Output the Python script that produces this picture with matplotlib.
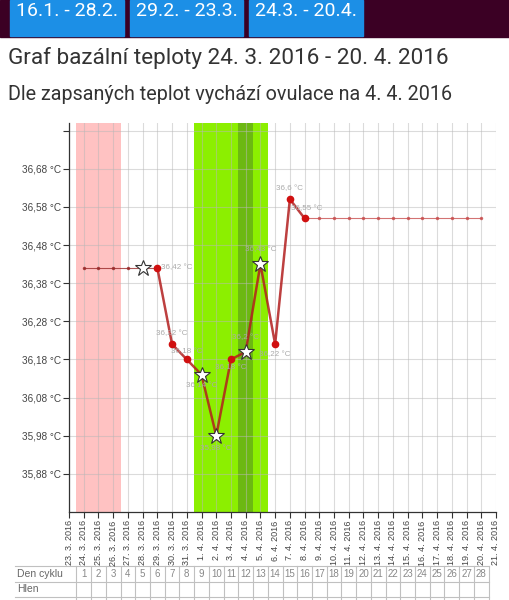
import matplotlib
matplotlib.use("Agg")
import matplotlib.pyplot as plt
from matplotlib.patches import Rectangle
from matplotlib.transforms import blended_transform_factory

W, H = 509, 600

dates = ["23. 3. 2016", "24. 3. 2016", "25. 3. 2016", "26. 3. 2016", "27. 3. 2016",
         "28. 3. 2016", "29. 3. 2016", "30. 3. 2016", "31. 3. 2016", "1. 4. 2016",
         "2. 4. 2016", "3. 4. 2016", "4. 4. 2016", "5. 4. 2016", "6. 4. 2016",
         "7. 4. 2016", "8. 4. 2016", "9. 4. 2016", "10. 4. 2016", "11. 4. 2016",
         "12. 4. 2016", "13. 4. 2016", "14. 4. 2016", "15. 4. 2016", "16. 4. 2016",
         "17. 4. 2016", "18. 4. 2016", "19. 4. 2016", "20. 4. 2016", "21. 4. 2016"]

temp_dates = ["29. 3. 2016", "30. 3. 2016", "31. 3. 2016", "1. 4. 2016", "2. 4. 2016",
              "3. 4. 2016", "4. 4. 2016", "5. 4. 2016", "6. 4. 2016", "7. 4. 2016",
              "8. 4. 2016"]
temps = [36.42, 36.22, 36.18, 36.14, 35.98, 36.18, 36.2, 36.43, 36.22, 36.6, 36.55]

star_dates = ["28. 3. 2016", "1. 4. 2016", "2. 4. 2016", "4. 4. 2016", "5. 4. 2016"]
star_temps = [36.42, 36.14, 35.98, 36.2, 36.43]

pre_dates = ["24. 3. 2016", "25. 3. 2016", "26. 3. 2016", "27. 3. 2016", "28. 3. 2016",
             "29. 3. 2016"]
pre_temp = 36.42
post_dates = ["8. 4. 2016", "9. 4. 2016", "10. 4. 2016", "11. 4. 2016", "12. 4. 2016",
              "13. 4. 2016", "14. 4. 2016", "15. 4. 2016", "16. 4. 2016", "17. 4. 2016",
              "18. 4. 2016", "19. 4. 2016", "20. 4. 2016"]
post_temp = 36.55

period_dates = ["24. 3. 2016", "25. 3. 2016", "26. 3. 2016"]
fertile_dates = ["1. 4. 2016", "2. 4. 2016", "3. 4. 2016", "4. 4. 2016", "5. 4. 2016"]
ovulation_date = "4. 4. 2016"

# label offsets in pixels (dx, dy up)
label_offsets = [(19, 0), (0, 11), (0, 8), (0, -11), (0, -13), (0, -8),
                 (0, 14), (0, 15), (0, -10), (0, 11), (2, 10)]

y_ticks = [35.88, 35.98, 36.08, 36.18, 36.28, 36.38, 36.48, 36.58, 36.68, 36.78]
y_labels = ["35,88 °C", "35,98 °C", "36,08 °C", "36,18 °C", "36,28 °C",
            "36,38 °C", "36,48 °C", "36,58 °C", "36,68 °C", ""]

cycle_days = ["1", "2", "3", "4", "5", "6", "7", "8", "9", "10", "11", "12", "13", "14",
              "15", "16", "17", "18", "19", "20", "21", "22", "23", "24", "25", "26",
              "27", "28"]
table_rows = ["Den cyklu", "Hlen"]

buttons = ["16.1. - 28.2.", "29.2. - 23.3.", "24.3. - 20.4."]
title = "Graf bazální teploty 24. 3. 2016 - 20. 4. 2016"
subtitle = "Dle zapsaných teplot vychází ovulace na 4. 4. 2016"

plt.rcParams["font.family"] = ["Liberation Sans", "DejaVu Sans"]

fig = plt.figure(figsize=(W / 100, H / 100), dpi=100)
bg = fig.add_axes([0, 0, 1, 1])
bg.set_xlim(0, W)
bg.set_ylim(H, 0)
bg.axis("off")

# header
bg.add_patch(Rectangle((0, 0), W, 37, color="#3b0024"))
btn_x = [10, 130, 249]
btn_w = [114, 113, 114]
for bx, bw, txt in zip(btn_x, btn_w, buttons):
    bg.add_patch(Rectangle((bx, 0), bw, 36, color="#1c8fe6"))
    bg.text(bx + bw / 2, 11, txt, color="white", fontsize=14, family="Roboto",
            ha="center", va="center")

bg.text(8, 58, title, fontsize=16.2, family="Roboto", color="#333333", va="center")
bg.text(8, 95, subtitle, fontsize=14.2, family="Roboto", color="#333333", va="center")

# chart
left, right, top, bottom = 69, 496, 123, 512
ax = fig.add_axes([left / W, (H - bottom) / H, (right - left) / W, (bottom - top) / H])
ax.set_xlim(0, len(dates) - 1)
ax.set_ylim(35.78, 36.80)

pos = {d: i for i, d in enumerate(dates)}

ax.axvspan(pos[period_dates[0]] - 0.5, pos[period_dates[-1]] + 0.5, color="#ffc2c2", lw=0, zorder=0)
ax.axvspan(pos[fertile_dates[0]] - 0.5, pos[fertile_dates[-1]] + 0.5, color="#8cef00", lw=0, zorder=0)
ax.axvspan(pos[ovulation_date] - 0.5, pos[ovulation_date] + 0.5, color="#6cb812", lw=0, zorder=0)

ax.set_xticks(range(len(dates)))
ax.set_xticklabels(dates, rotation=90, fontsize=6.5, color="#444444")
ax.set_yticks(y_ticks)
ax.set_yticklabels(y_labels, fontsize=7.2, color="#444444")
ax.tick_params(axis="both", direction="out", length=4, width=0.8, color="#333333", pad=2)
ax.grid(True, color="#b8b8b8", alpha=0.5, lw=0.8, zorder=1)
ax.set_axisbelow(True)
for s in ["top", "right"]:
    ax.spines[s].set_visible(False)
for s in ["left", "bottom"]:
    ax.spines[s].set_color("#333333")
    ax.spines[s].set_linewidth(0.9)

px = [pos[d] for d in pre_dates]
ax.plot(px, [pre_temp] * len(px), color="#9a2a2a", lw=0.8, alpha=0.8,
        marker="o", ms=1.5, zorder=3)
qx = [pos[d] for d in post_dates]
ax.plot(qx, [post_temp] * len(qx), color="#c85050", lw=0.8, alpha=0.8,
        marker="o", ms=1.5, zorder=3)

tx = [pos[d] for d in temp_dates]
ax.plot(tx, temps, color="#b21e1e", lw=1.8, alpha=0.85, zorder=4)
ax.plot(tx, temps, ls="none", marker="o", ms=4.5, color="#d01010", zorder=5)

sx = [pos[d] for d in star_dates]
ax.plot(sx, star_temps, ls="none", marker="*", ms=12, mfc="white", mec="#333333",
        mew=0.8, zorder=6)

for x, t, (dx, dy) in zip(tx, temps, label_offsets):
    lab = f"{t:g}".replace(".", ",") + " °C"
    ax.annotate(lab, (x, t), xytext=(dx, dy), textcoords="offset pixels",
                ha="center", va="center", fontsize=5.8, color="#aaaaaa", zorder=7)

# table under the chart
tr = blended_transform_factory(ax.transData, bg.transData)
row_y = [566, 581.5, 597]
n = len(cycle_days)
x_end = ax.transData.transform((n + 0.5, 0))[0]
for y in row_y:
    bg.plot([15, x_end], [y, y], color="#c0c0c0", lw=0.8, clip_on=False)
for k in range(n + 1):
    bg.plot([k + 0.5, k + 0.5], [row_y[0], H], color="#c0c0c0", lw=0.8,
            transform=tr, clip_on=False)
for k, d in enumerate(cycle_days):
    bg.text(k + 1, (row_y[0] + row_y[1]) / 2, d, transform=tr, fontsize=7,
            color="#888888", ha="center", va="center")
for r, name in enumerate(table_rows):
    bg.text(17, (row_y[r] + row_y[r + 1]) / 2, name, fontsize=7.5, color="#666666",
            va="center")

fig.savefig("out.png", dpi=100)
